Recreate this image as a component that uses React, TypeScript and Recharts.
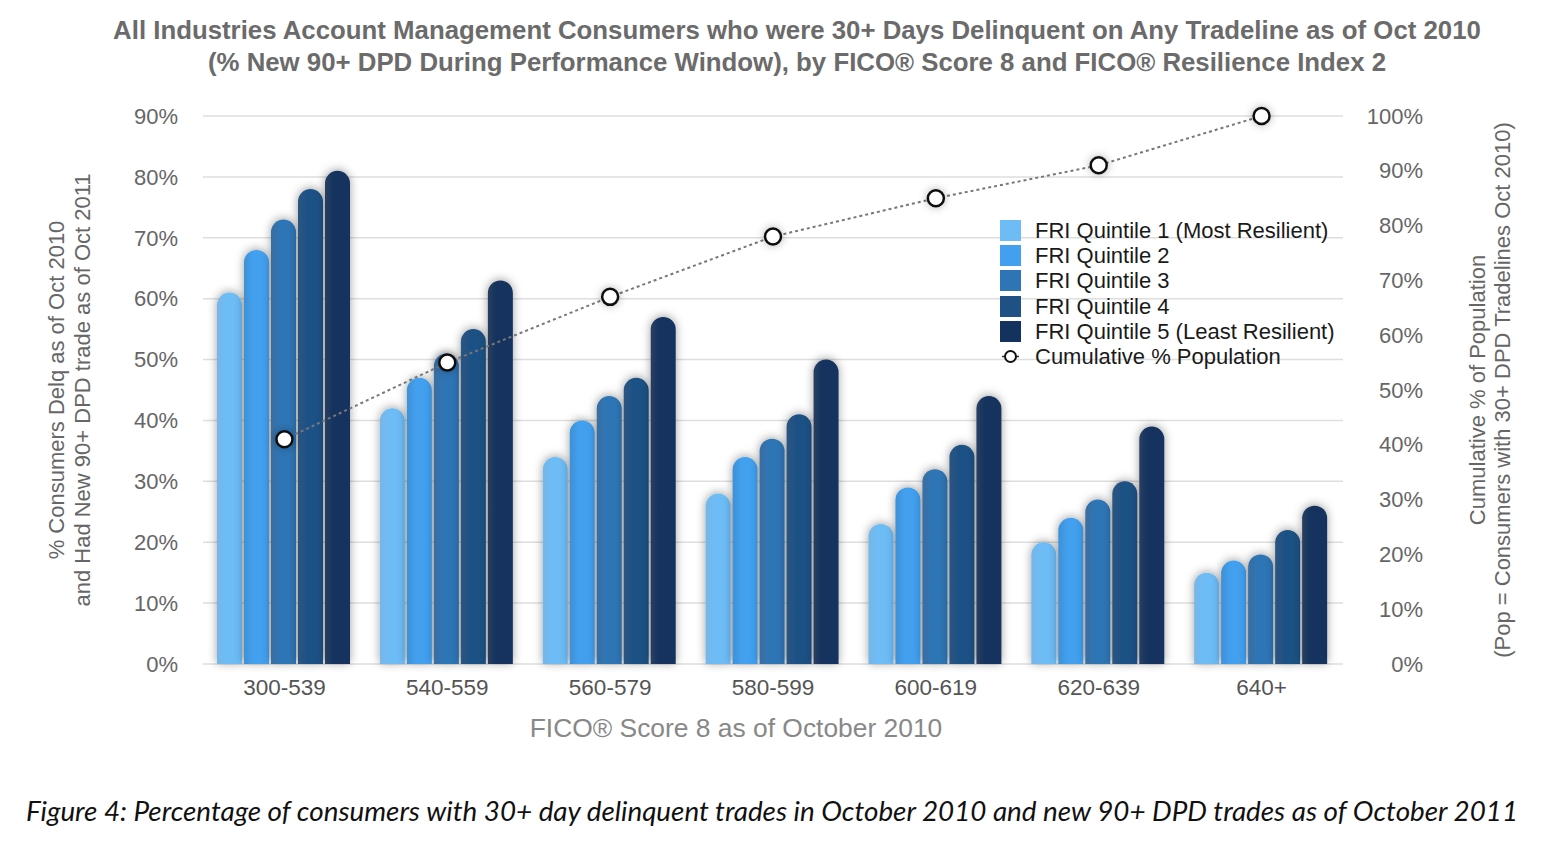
import React from "react";
import { ComposedChart, Bar, Line, XAxis, YAxis, CartesianGrid, Rectangle } from "recharts";

// Score bands and series values
const categories = ["300-539", "540-559", "560-579", "580-599", "600-619", "620-639", "640+"];
const quintile1 = [61, 42, 34, 28, 23, 20, 15];
const quintile2 = [68, 47, 40, 34, 29, 24, 17];
const quintile3 = [73, 51, 44, 37, 32, 27, 18];
const quintile4 = [78, 55, 47, 41, 36, 30, 22];
const quintile5 = [81, 63, 57, 50, 44, 39, 26];
const cumulativePop = [41, 55, 67, 78, 85, 91, 100];

const leftTicks = [0, 10, 20, 30, 40, 50, 60, 70, 80, 90];
const rightTicks = [0, 10, 20, 30, 40, 50, 60, 70, 80, 90, 100];

const SERIES = [
    { key: "q1", name: "FRI Quintile 1 (Most Resilient)", color: "#6dbcf6", edge: "#77b6e6" },
    { key: "q2", name: "FRI Quintile 2", color: "#42a0ef", edge: "#3f8fd4" },
    { key: "q3", name: "FRI Quintile 3", color: "#2f75b5", edge: "#3a6d9e" },
    { key: "q4", name: "FRI Quintile 4", color: "#1f5185", edge: "#2b5580" },
    { key: "q5", name: "FRI Quintile 5 (Least Resilient)", color: "#13325e", edge: "#2a3f60" },
];

const rows = categories.map((range, i) => ({
    range,
    q1: quintile1[i],
    q2: quintile2[i],
    q3: quintile3[i],
    q4: quintile4[i],
    q5: quintile5[i],
    cum: cumulativePop[i],
}));

const FONT = '"Liberation Sans", Arial, Helvetica, sans-serif';

function RoundedBar(props: any) {
    const { x, y, width, height, fill } = props;
    if (!height || height <= 0) return null;
    const r = width / 2;
    return (
        <g filter="url(#barShadow)">
            <Rectangle x={x} y={y} width={width} height={height} radius={[r, r, 0, 0]} fill={fill} />
        </g>
    );
}

function PopDot(props: any) {
    const { cx, cy, index } = props;
    if (cx == null || cy == null) return null;
    return (
        <circle
            key={`dot-${index}`}
            cx={cx}
            cy={cy}
            r={8}
            fill="#fff"
            stroke="#111"
            strokeWidth={2.5}
            filter="url(#dotShadow)"
        />
    );
}

function RightTick(props: any) {
    const { x, y, payload } = props;
    return (
        <text x={x + 72} y={y} textAnchor="end" dominantBaseline="central" fill="#666" fontSize={22} fontFamily={FONT}>
            {payload.value}%
        </text>
    );
}

function LegendBox() {
    return (
        <div
            style={{
                position: "absolute",
                left: 992,
                top: 210,
                fontFamily: FONT,
                fontSize: 22,
                color: "#1a1a1a",
                lineHeight: "25.2px",
            }}
        >
            {SERIES.map((s) => (
                <div key={s.key} style={{ display: "flex", alignItems: "center", height: 25.2 }}>
                    <span style={{ width: 21, height: 21, background: s.color, marginRight: 14, display: "inline-block" }} />
                    <span>{s.name}</span>
                </div>
            ))}
            <div style={{ display: "flex", alignItems: "center", height: 25.2 }}>
                <svg width={21} height={21} style={{ marginRight: 14 }}>
                    <line x1={2} y1={10.5} x2={19} y2={10.5} stroke="#333" strokeWidth={1.5} />
                    <circle cx={10.5} cy={10.5} r={5.5} fill="#fff" stroke="#111" strokeWidth={2} />
                </svg>
                <span>Cumulative % Population</span>
            </div>
        </div>
    );
}

export default function App() {
    return (
        <div style={{ position: "relative", width: 1540, height: 834, fontFamily: FONT, background: "#fff" }}>
            <div
                style={{
                    position: "absolute",
                    left: 789,
                    top: 6,
                    transform: "translateX(-50%)",
                    whiteSpace: "nowrap",
                    textAlign: "center",
                    fontWeight: "bold",
                    fontSize: 25.8,
                    lineHeight: "32px",
                    color: "#6b6b6b",
                }}
            >
                All Industries Account Management Consumers who were 30+ Days Delinquent on Any Tradeline as of Oct 2010
                <br />
                (% New 90+ DPD During Performance Window), by FICO® Score 8 and FICO® Resilience Index 2
            </div>

            <div style={{ position: "absolute", left: 0, top: 0 }}>
                <ComposedChart
                    width={1540}
                    height={760}
                    data={rows}
                    margin={{ top: 108, right: 0, left: 0, bottom: 64 }}
                    barCategoryGap={14}
                    barGap={2}
                >
                    <defs>
                        <filter id="barShadow" x="-60%" y="-20%" width="220%" height="140%">
                            <feDropShadow dx="0" dy="-1" stdDeviation="5" floodColor="#000" floodOpacity="0.38" />
                        </filter>
                        <filter id="dotShadow" x="-100%" y="-100%" width="300%" height="300%">
                            <feDropShadow dx="0" dy="0" stdDeviation="4" floodColor="#000" floodOpacity="0.3" />
                        </filter>
                        {SERIES.map((s) => (
                            <linearGradient key={s.key} id={`grad-${s.key}`} x1="0" y1="0" x2="1" y2="0">
                                <stop offset="0%" stopColor={s.edge} />
                                <stop offset="35%" stopColor={s.color} />
                                <stop offset="100%" stopColor={s.color} />
                            </linearGradient>
                        ))}
                    </defs>
                    <CartesianGrid yAxisId="left" vertical={false} stroke="#dedede" strokeWidth={1.5} />
                    <XAxis
                        dataKey="range"
                        axisLine={false}
                        tickLine={false}
                        tickMargin={9}
                        height={40}
                        tick={{ fill: "#555", fontSize: 22.5, fontFamily: FONT }}
                    />
                    <YAxis
                        yAxisId="left"
                        orientation="left"
                        width={195}
                        domain={[0, 90]}
                        ticks={leftTicks}
                        tickFormatter={(v) => `${v}%`}
                        axisLine={false}
                        tickLine={false}
                        tickMargin={19}
                        tick={{ fill: "#666", fontSize: 22, fontFamily: FONT }}
                    />
                    <YAxis
                        yAxisId="right"
                        orientation="right"
                        width={205}
                        domain={[0, 100]}
                        ticks={rightTicks}
                        axisLine={false}
                        tickLine={false}
                        tick={<RightTick />}
                    />
                    {SERIES.map((s) => (
                        <Bar
                            key={s.key}
                            yAxisId="left"
                            dataKey={s.key}
                            name={s.name}
                            fill={`url(#grad-${s.key})`}
                            shape={<RoundedBar />}
                            isAnimationActive={false}
                        />
                    ))}
                    <Line
                        yAxisId="right"
                        type="linear"
                        dataKey="cum"
                        name="Cumulative % Population"
                        stroke="#777"
                        strokeWidth={2}
                        strokeDasharray="3 3"
                        dot={<PopDot />}
                        activeDot={false}
                        isAnimationActive={false}
                    />
                </ComposedChart>
            </div>

            <LegendBox />

            <div
                style={{
                    position: "absolute",
                    left: 62,
                    top: 382,
                    transform: "translate(-50%, -50%) rotate(-90deg)",
                    whiteSpace: "nowrap",
                    textAlign: "center",
                    fontSize: 22,
                    lineHeight: "26px",
                    color: "#666",
                }}
            >
                % Consumers Delq as of Oct 2010
                <br />
                and Had New 90+ DPD trade as of Oct 2011
            </div>

            <div
                style={{
                    position: "absolute",
                    left: 1482,
                    top: 382,
                    transform: "translate(-50%, -50%) rotate(-90deg)",
                    whiteSpace: "nowrap",
                    textAlign: "center",
                    fontSize: 22,
                    lineHeight: "25px",
                    color: "#666",
                }}
            >
                Cumulative % of Population
                <br />
                (Pop = Consumers with 30+ DPD Tradelines Oct 2010)
            </div>

            <div
                style={{
                    position: "absolute",
                    left: 728,
                    top: 720,
                    transform: "translate(-50%, -50%)",
                    whiteSpace: "nowrap",
                    fontSize: 26.4,
                    color: "#888",
                }}
            >
                FICO® Score 8 as of October 2010
            </div>

            <div
                style={{
                    position: "absolute",
                    left: 764,
                    top: 802,
                    transform: "translate(-50%, -50%)",
                    whiteSpace: "nowrap",
                    fontFamily: "Lato, 'Open Sans', sans-serif",
                    fontStyle: "italic",
                    fontSize: 27.8,
                    color: "#111",
                }}
            >
                Figure 4: Percentage of consumers with 30+ day delinquent trades in October 2010 and new 90+ DPD trades as of October 2011
            </div>
        </div>
    );
}
